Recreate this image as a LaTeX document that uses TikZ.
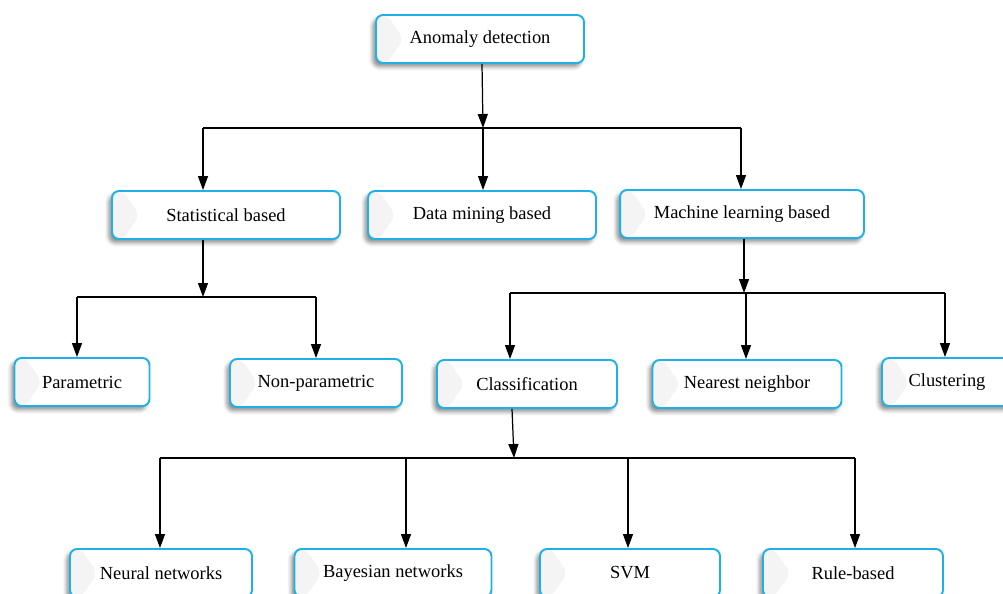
\documentclass[tikz,border=0pt]{standalone}
\usepackage{fontspec}
\setmainfont{Liberation Serif}
\usetikzlibrary{arrows.meta,shadows.blur}

\definecolor{boxblue}{RGB}{30,176,230}

\tikzset{
  box/.style={draw=boxblue, line width=1.1pt, rounded corners=4pt, fill=white,
    minimum height=0.96cm, inner sep=0pt,
    font=\fontsize{10.5}{12}\selectfont,
    blur shadow={shadow xshift=-1.8pt, shadow yshift=-2.2pt,
      shadow blur radius=2.2pt, shadow opacity=45},
    path picture={\fill[gray!9] (path picture bounding box.north west)
      -- ([xshift=0.22cm]path picture bounding box.north west)
      -- ([xshift=0.55cm]path picture bounding box.west)
      -- ([xshift=0.22cm]path picture bounding box.south west)
      -- (path picture bounding box.south west) -- cycle;}},
  link/.style={-{Triangle[length=0.28cm,width=0.2cm]}, line width=0.7pt},
  bus/.style={line width=0.7pt}
}

\begin{document}
\begin{tikzpicture}[x=0.02cm, y=-0.02cm]

    % --- Page frame ---
    \useasboundingbox (0,0) rectangle (1003,594);

    % --- Level 1 ---
    % Root box
    \node[box, minimum width=4.16cm] (anomaly) at (480,39) {Anomaly detection};

    % --- Level 2 ---
    \node[box, minimum width=4.56cm] (statistical) at (226,215) {Statistical based};
    \node[box, minimum width=4.56cm] (datamining) at (482,215) {Data mining based};
    \node[box, minimum width=4.88cm] (mlbased) at (742,214) {Machine learning based};

    % --- Level 3 ---
    \node[box, minimum width=2.7cm] (param) at (82,382) {Parametric};
    \node[box, minimum width=3.44cm] (nonparam) at (316,383) {Non-parametric};
    \node[box, minimum width=3.6cm] (classif) at (527,384) {Classification};
    \node[box, minimum width=3.78cm] (nearest) at (747,384) {Nearest neighbor};
    \node[box, minimum width=2.6cm] (cluster) at (947,382) {Clustering};

    % --- Level 4 ---
    \node[box, minimum width=3.64cm] (neural) at (161,573) {Neural networks};
    \node[box, minimum width=3.94cm] (bayes) at (393,573) {Bayesian networks};
    \node[box, minimum width=3.6cm] (svm) at (630,573) {SVM};
    \node[box, minimum width=3.6cm] (rule) at (853,573) {Rule-based};

    % --- Bus points ---
    \coordinate (topL) at (203,128);
    \coordinate (topM) at (483,128);
    \coordinate (topR) at (741,128);
    \coordinate (statM) at (203,297);
    \coordinate (statL) at (77,297);
    \coordinate (statR) at (316,297);
    \coordinate (mlM) at (744,293);
    \coordinate (mlL) at (510,293);
    \coordinate (mlC) at (746,293);
    \coordinate (mlR) at (945,293);
    \coordinate (clsM) at (514,458);
    \coordinate (clsA) at (160,458);
    \coordinate (clsB) at (406,458);
    \coordinate (clsC) at (628,458);
    \coordinate (clsD) at (855,458);

    % --- Root to level 2 ---
    \draw[link] ([xshift=0.04cm]anomaly.south) -- (topM);
    \draw[bus] (topL) -- (topR);
    \draw[link] (topL) -- (topL |- statistical.north);
    \draw[link] (topM) -- (topM |- datamining.north);
    \draw[link] (topR) -- (topR |- mlbased.north);

    % --- Statistical branch ---
    \draw[link] (statM |- statistical.south) -- (statM);
    \draw[bus] (statL) -- (statR);
    \draw[link] (statL) -- (statL |- param.north);
    \draw[link] (statR) -- (statR |- nonparam.north);

    % --- Machine learning branch ---
    \draw[link] (mlM |- mlbased.south) -- (mlM);
    \draw[bus] (mlL) -- (mlR);
    \draw[link] (mlL) -- (mlL |- classif.north);
    \draw[link] (mlC) -- (mlC |- nearest.north);
    \draw[link] (mlR) -- (mlR |- cluster.north);

    % --- Classification branch ---
    \draw[link] ([xshift=-0.3cm]classif.south) -- (clsM);
    \draw[bus] (clsA) -- (clsD);
    \draw[link] (clsA) -- (clsA |- neural.north);
    \draw[link] (clsB) -- (clsB |- bayes.north);
    \draw[link] (clsC) -- (clsC |- svm.north);
    \draw[link] (clsD) -- (clsD |- rule.north);

\end{tikzpicture}
\end{document}
